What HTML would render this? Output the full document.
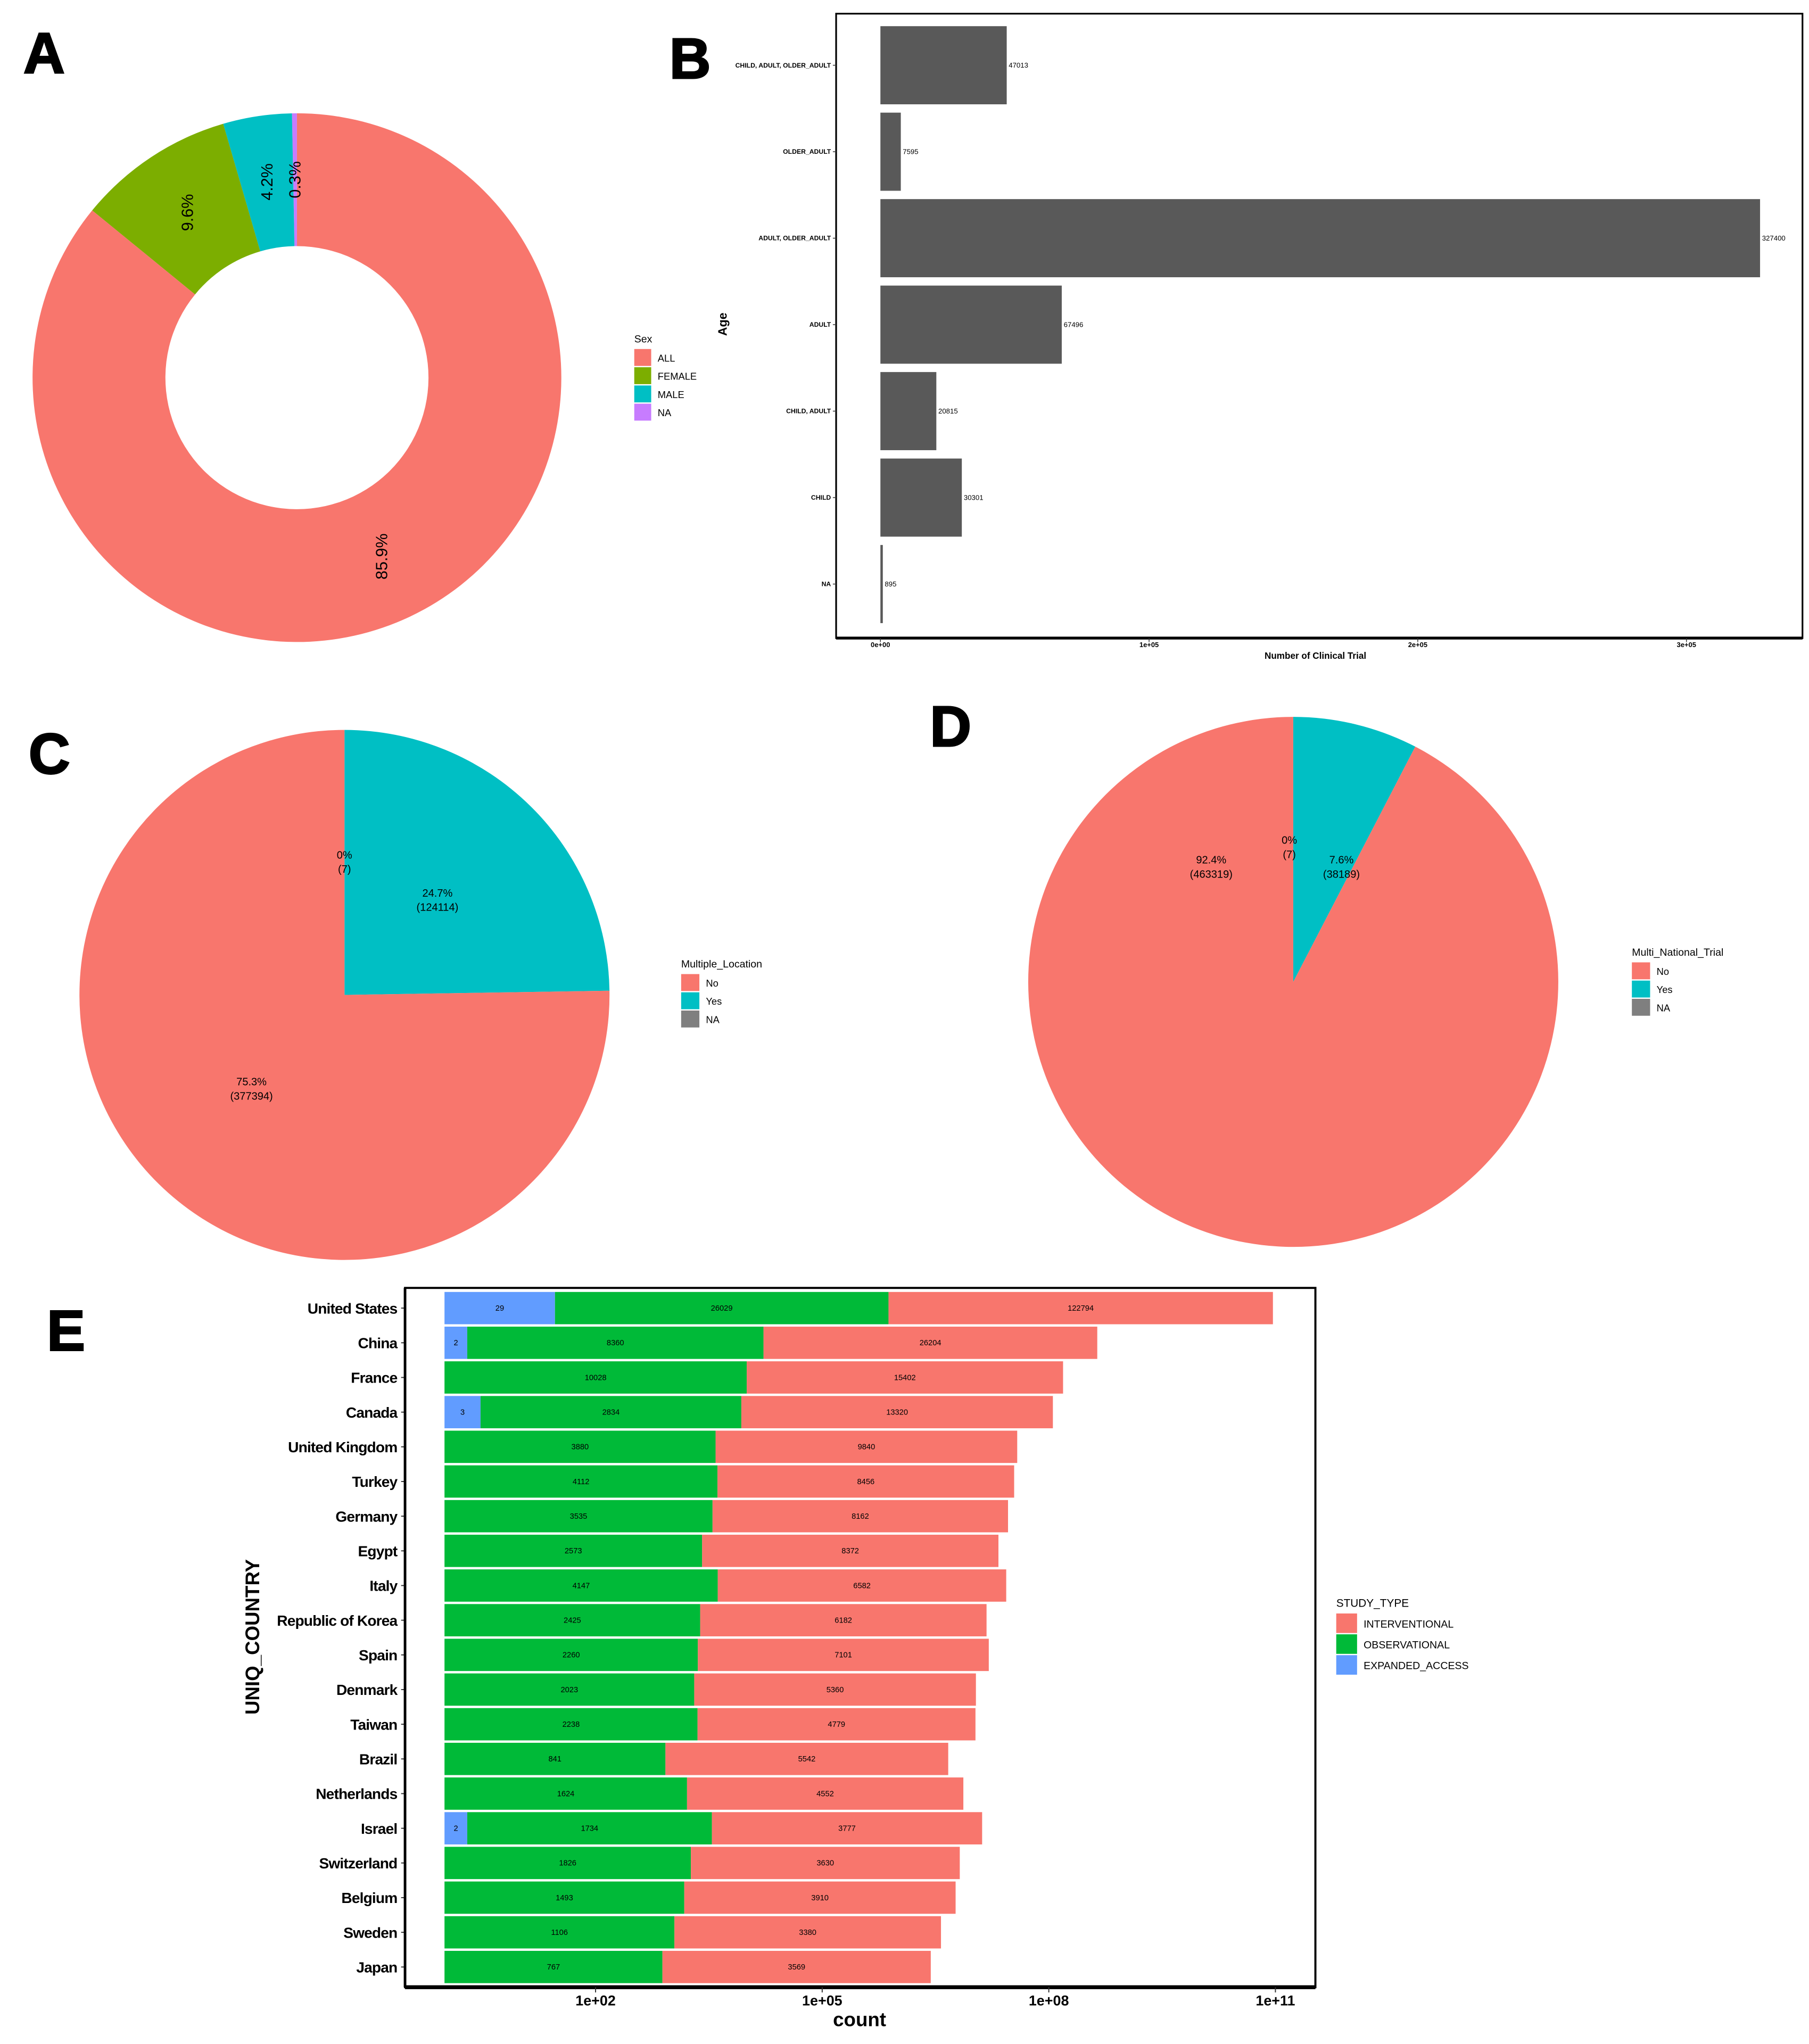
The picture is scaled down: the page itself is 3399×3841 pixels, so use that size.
<!DOCTYPE html>
<html><head><meta charset="utf-8"><title>Clinical trial panels</title>
<style>
html,body{margin:0;padding:0;background:#fff;}
svg{display:block;font-family:"Liberation Sans",Arial,sans-serif;}
</style></head>
<body>
<svg id="fig" xmlns="http://www.w3.org/2000/svg" width="3399" height="3841" viewBox="0 0 1389 1569.6" preserveAspectRatio="none">
<rect x="0" y="0" width="1389" height="1569.6" fill="#fff"/>
<g id="pA"></g>
<g id="pB"></g>
<g id="pC"></g>
<g id="pD"></g>
<g id="pE"></g>
</svg>
<script>
// ---------- Panel A data ----------
const sexCategories = ["ALL","FEMALE","MALE","NA"];
const sexPercent = [85.9, 9.6, 4.2, 0.3];
const sexColors = ["#F8766D","#7CAE00","#00BFC4","#C77CFF"];
// ---------- Panel B data ----------
const ageCategories = ["CHILD, ADULT, OLDER_ADULT","OLDER_ADULT","ADULT, OLDER_ADULT","ADULT","CHILD, ADULT","CHILD","NA"];
const ageValues = [47013, 7595, 327400, 67496, 20815, 30301, 895];
const ageTicks = [0, 100000, 200000, 300000];
const ageTickLabels = ["0e+00","1e+05","2e+05","3e+05"];
// ---------- Panel C data ----------
const locCategories = ["No","Yes","NA"];
const locCounts = [377394, 124114, 7];
const locPercentLabels = ["75.3%","24.7%","0%"];
// ---------- Panel D data ----------
const natCategories = ["No","Yes","NA"];
const natCounts = [463319, 38189, 7];
const natPercentLabels = ["92.4%","7.6%","0%"];
const pieColors = ["#F8766D","#00BFC4","#7F7F7F"];
// ---------- Panel E data ----------
const countries = ["United States","China","France","Canada","United Kingdom","Turkey","Germany","Egypt","Italy","Republic of Korea","Spain","Denmark","Taiwan","Brazil","Netherlands","Israel","Switzerland","Belgium","Sweden","Japan"];
const expandedAccess = [29,2,0,3,0,1,0,0,0,1,0,0,1,0,0,2,0,0,0,0];
const observational = [26029,8360,10028,2834,3880,4112,3535,2573,4147,2425,2260,2023,2238,841,1624,1734,1826,1493,1106,767];
const interventional = [122794,26204,15402,13320,9840,8456,8162,8372,6582,6182,7101,5360,4779,5542,4552,3777,3630,3910,3380,3569];
const countTicks = [2,5,8,11];
const countTickLabels = ["1e+02","1e+05","1e+08","1e+11"];
const studyTypes = ["INTERVENTIONAL","OBSERVATIONAL","EXPANDED_ACCESS"];
const studyColors = ["#F8766D","#00BA38","#619CFF"];

const NS = "http://www.w3.org/2000/svg";
function mk(tag, attrs, parent, txt){
  const e = document.createElementNS(NS, tag);
  for (const k in attrs) e.setAttribute(k, attrs[k]);
  if (txt !== undefined) e.textContent = txt;
  parent.appendChild(e);
  return e;
}
function panelLetter(parent, ch, x, y){
  const t = mk("text",{x:x,y:y,"font-size":44,"font-weight":"900",fill:"#000",stroke:"#000","stroke-width":1.2},parent,ch);
  
  
}
function polar(cx,cy,r,deg){ const a=deg*Math.PI/180; return [cx+r*Math.sin(a), cy-r*Math.cos(a)]; }
function arcPath(cx,cy,r0,r1,a0,a1){
  const large = (a1-a0)>180?1:0;
  const p1=polar(cx,cy,r1,a0), p2=polar(cx,cy,r1,a1);
  if (r0<=0){
    return `M${cx},${cy} L${p1[0]},${p1[1]} A${r1},${r1} 0 ${large} 1 ${p2[0]},${p2[1]} Z`;
  }
  const p3=polar(cx,cy,r0,a1), p4=polar(cx,cy,r0,a0);
  return `M${p1[0]},${p1[1]} A${r1},${r1} 0 ${large} 1 ${p2[0]},${p2[1]} L${p3[0]},${p3[1]} A${r0},${r0} 0 ${large} 0 ${p4[0]},${p4[1]} Z`;
}
function legend(parent, title, cats, colors, x, y, key, fs, gap, nameBase){
  const t = mk("text",{x:x,y:y,"font-size":fs+0.5,fill:"#000"},parent,title);
  
  
  cats.forEach((c,i)=>{
    const ky = y+5+i*gap;
    const r = mk("rect",{x:x,y:ky,width:key,height:gap-1,fill:colors[i]},parent);
    
    
    const tx = mk("text",{x:x+key+5,y:ky+gap/2+fs*0.35,"font-size":fs,fill:"#000"},parent,c);
    
    
  });
}

// ================= Panel A =================
(function(){
  const g = document.getElementById("pA");
  panelLetter(g,"A",18,56);
  const cx=228, cy=290, R=203, r0=101;
  const total = sexPercent.reduce((a,b)=>a+b,0);
  const labels=[];
  let acc = 0;
  for (let i=sexCategories.length-1;i>=0;i--){
    const span = sexPercent[i]/total*360;
    const a0 = 360-acc-span, a1 = 360-acc;
    const p = mk("path",{d:arcPath(cx,cy,r0,R,a0,a1),fill:sexColors[i]},g);
    
    
    labels.push([i,(a0+a1)/2]);
    acc += span;
  }
  labels.forEach(([i,mid])=>{
    const lp=polar(cx,cy,(R+r0)/2,mid);
    const t = mk("text",{x:lp[0],y:lp[1],"font-size":12.5,"text-anchor":"middle","dominant-baseline":"central",transform:`rotate(-90 ${lp[0]} ${lp[1]})`,fill:"#000"},g,sexPercent[i].toFixed(1)+"%");
    
    
  });
  legend(g,"Sex",sexCategories,sexColors,487,263,13,7.5,14,"sex-legend");
})();

// ================= Panel B =================
(function(){
  const g = document.getElementById("pB");
  panelLetter(g,"B",514,60);
  const L=642, T=10.5, Rt=1384, B=490;
  const x0=676, per=206.3/100000;
  const X = v => x0 + v*per;
  const y0=50.1, step=66.4, bh=60;
  const box = mk("rect",{x:L,y:T,width:Rt-L,height:B-T,fill:"none",stroke:"#000","stroke-width":1.3},g);
  
  
  mk("line",{x1:L,y1:B,x2:Rt,y2:B,stroke:"#000","stroke-width":2.2},g);
  ageCategories.forEach((c,i)=>{
    const yc = y0+i*step;
    const r = mk("rect",{x:X(0),y:yc-bh/2,width:X(ageValues[i])-X(0),height:bh,fill:"#595959"},g);
    
    
    const vt = mk("text",{x:X(ageValues[i])+1.5,y:yc+1.8,"font-size":5.4,fill:"#000"},g,String(ageValues[i]));
    
    
    const lt = mk("text",{x:L-4,y:yc+1.7,"font-size":5,"font-weight":"bold","text-anchor":"end",fill:"#000"},g,c);
    
    
    mk("line",{x1:L-2.5,y1:yc,x2:L,y2:yc,stroke:"#333","stroke-width":0.6},g);
  });
  ageTicks.forEach((v,i)=>{
    mk("line",{x1:X(v),y1:B,x2:X(v),y2:B+3,stroke:"#333","stroke-width":0.6},g);
    const t = mk("text",{x:X(v),y:B+7,"font-size":5.3,"font-weight":"bold","text-anchor":"middle",fill:"#000"},g,ageTickLabels[i]);
    
    
  });
  const xt = mk("text",{x:1010,y:506,"font-size":7,"font-weight":"bold","text-anchor":"middle",fill:"#000"},g,"Number of Clinical Trial");
  
  
  const yt = mk("text",{x:558,y:249,"font-size":9.5,"font-weight":"bold","text-anchor":"middle",transform:"rotate(-90 558 249)",fill:"#000"},g,"Age");
  
  
})();

// ================= Pie helper =================
function pie(g, cx, cy, R, cats, counts, pctLabels, namePrefix, labelPos){
  const total = counts.reduce((a,b)=>a+b,0);
  const order=[1,0,2]; let acc=0;
  const labs=[];
  order.forEach(i=>{
    const span = counts[i]/total*360;
    if (span>0.0001){
      const p = mk("path",{d:arcPath(cx,cy,0,R,acc,acc+span),fill:pieColors[i]},g);
      
      
    }
    let lp = labelPos ? labelPos[i] : polar(cx,cy,R/2,acc+span/2);
    if (!labelPos && span<0.01) lp = polar(cx,cy,R/2,0);
    labs.push([i,lp]);
    acc += span;
  });
  labs.forEach(([i,lp])=>{
    const t = mk("text",{x:lp[0],y:lp[1]-3,"font-size":8.2,"text-anchor":"middle",fill:"#000"},g,pctLabels[i]);
    
    
    const t2 = mk("text",{x:lp[0],y:lp[1]+8,"font-size":8.2,"text-anchor":"middle",fill:"#000"},g,"("+counts[i]+")");
    
    
  });
}

// ================= Panel C =================
(function(){
  const g = document.getElementById("pC");
  panelLetter(g,"C",22,594);
  pie(g,264.5,764,203.5,locCategories,locCounts,locPercentLabels,"location-pie",null);
  legend(g,"Multiple_Location",locCategories,pieColors,523,743,14,7.5,14,"location-legend");
})();

// ================= Panel D =================
(function(){
  const g = document.getElementById("pD");
  panelLetter(g,"D",714,573);
  pie(g,993,754,203.5,natCategories,natCounts,natPercentLabels,"national-pie",[[930,666],[1030,666],[990,651]]);
  legend(g,"Multi_National_Trial",natCategories,pieColors,1253,734,14,7.5,14,"national-legend");
})();

// ================= Panel E =================
(function(){
  const g = document.getElementById("pE");
  panelLetter(g,"E",36,1037);
  const L=311, T=989, Rt=1010, B=1526;
  const perDec = 58.0, x0 = 457.3 - 2*perDec;
  const X = lg => x0 + lg*perDec;
  const y0=1004.5, step=26.63, bh=24.8;
  countries.forEach((c,i)=>{
    const yc=y0+i*step;
    const vals=[expandedAccess[i],observational[i],interventional[i]];
    const cols=[studyColors[2],studyColors[1],studyColors[0]];
    const names=["expanded-access","observational","interventional"];
    let acc=0;
    vals.forEach((v,j)=>{
      if (v<=0) return;
      const w = Math.log10(v);
      const r = mk("rect",{x:X(acc),y:yc-bh/2,width:X(acc+w)-X(acc),height:bh,fill:cols[j]},g);
      
      
      const t = mk("text",{x:(X(acc)+X(acc+w))/2 + (w===0?1.5:0),y:yc+2,"font-size":6,"text-anchor":"middle",fill:"#000"},g,String(v));
      
      
      acc+=w;
    });
    const lt = mk("text",{x:305,y:yc+4.2,"font-size":11.5,"font-weight":"bold","letter-spacing":-0.35,"text-anchor":"end",fill:"#000"},g,c);
    
    
    mk("line",{x1:L-3,y1:yc,x2:L,y2:yc,stroke:"#333","stroke-width":0.8},g);
  });
  const box = mk("rect",{x:L,y:T,width:Rt-L,height:B-T,fill:"none",stroke:"#000","stroke-width":1.6},g);
  
  
  mk("line",{x1:L,y1:B,x2:Rt,y2:B,stroke:"#000","stroke-width":3},g);
  mk("line",{x1:L,y1:T,x2:L,y2:B,stroke:"#000","stroke-width":2},g);
  countTicks.forEach((lg,i)=>{
    mk("line",{x1:X(lg),y1:B,x2:X(lg),y2:B+4,stroke:"#333","stroke-width":0.8},g);
    const t = mk("text",{x:X(lg),y:1540,"font-size":11,"font-weight":"bold","text-anchor":"middle",fill:"#000"},g,countTickLabels[i]);
    
    
  });
  const xt = mk("text",{x:660,y:1556,"font-size":15,"font-weight":"bold","text-anchor":"middle",fill:"#000"},g,"count");
  
  
  const yt = mk("text",{x:199,y:1257,"font-size":15,"font-weight":"bold","text-anchor":"middle",transform:"rotate(-90 199 1257)",fill:"#000"},g,"UNIQ_COUNTRY");
  
  
  legend(g,"STUDY_TYPE",studyTypes,studyColors,1026,1234,16,8,16,"study-type-legend");
})();
</script>
</body></html>
